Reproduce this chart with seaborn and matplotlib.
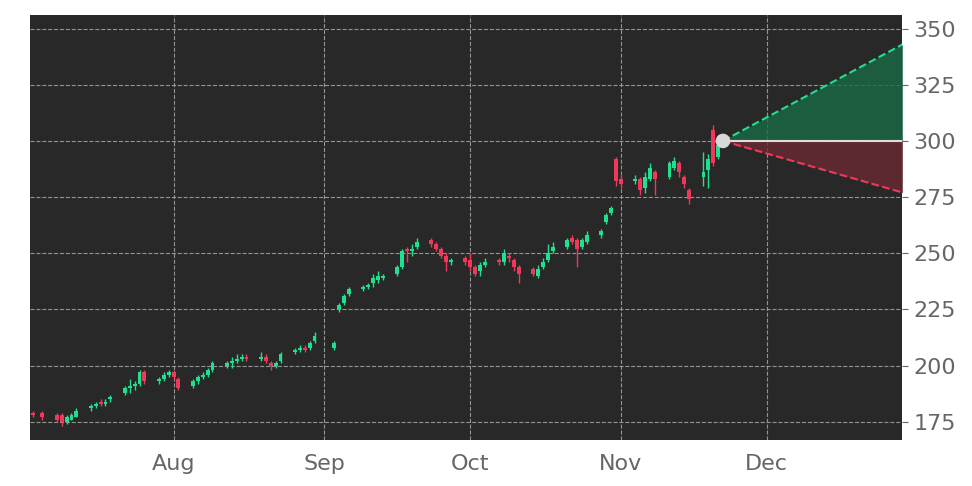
import pandas as pd
import numpy as np
import matplotlib.pyplot as plt
import matplotlib.dates as mdates
import seaborn as sns

# daily candles, Jul 1 - Nov 21 (trading days)
opens = [180, 180, 179, 179, 178, 178, 175, 176, 177, 181, 182, 184, 183, 185, 188, 190, 191, 192, 197, 193, 194, 196,
         197, 194, 191, 193, 195, 196, 198, 200, 201, 202, 203, 204, 203, 204, 201, 200, 202, 206, 207, 208, 208, 211,
         208, 225, 228, 232, 234, 235, 237, 238, 239, 241, 244, 252, 251, 253, 256, 254, 252, 249, 246, 248,
         247, 244, 242, 245, 247, 246, 249, 247, 244, 243, 240, 244, 247, 251, 253, 257, 256, 253, 255, 258, 264, 268, 292,
         283, 282, 283, 279, 283, 286, 284, 288, 290, 284, 278, 284, 287, 305, 293]
closes = [180, 179, 178, 177, 176, 175, 177, 178, 180, 182, 183, 183, 184, 186, 190, 191, 192, 197, 193, 194, 196, 197,
          195, 190, 193, 195, 196, 198, 201, 201, 202, 203, 204, 203, 204, 202, 200, 201, 205, 207, 208, 207, 210, 213,
          210, 227, 231, 234, 235, 236, 239, 240, 240, 244, 251, 251, 252, 255, 254, 252, 249, 246, 247, 246,
          244, 241, 245, 246, 246, 250, 248, 244, 241, 241, 243, 246, 250, 253, 256, 255, 252, 256, 258, 260, 267, 270, 282,
          281, 283, 278, 284, 288, 283, 290, 291, 286, 281, 274, 286, 292, 290, 298]
highs = [181, 181, 180, 180, 179, 179, 178, 179, 181, 183, 184, 185, 185, 187, 191, 194, 193, 198, 198, 195, 197, 198,
         198, 195, 194, 196, 197, 199, 202, 202, 204, 205, 205, 205, 206, 205, 202, 202, 206, 208, 209, 209, 211, 215,
         211, 228, 232, 235, 236, 237, 241, 242, 241, 245, 252, 253, 254, 257, 257, 255, 253, 250, 248, 249,
         250, 245, 246, 248, 248, 252, 250, 248, 245, 244, 245, 248, 254, 255, 257, 258, 257, 257, 260, 261, 268, 271, 293,
         285, 285, 284, 286, 290, 287, 291, 293, 291, 285, 279, 295, 294, 307, 302]
lows = [179, 178, 177, 176, 175, 173, 174, 176, 177, 180, 181, 182, 182, 184, 187, 188, 189, 191, 192, 192, 193, 195,
        194, 189, 190, 192, 194, 195, 197, 199, 199, 201, 202, 202, 202, 201, 198, 199, 201, 205, 206, 206, 207, 210,
        207, 224, 227, 231, 233, 234, 235, 237, 238, 240, 243, 246, 249, 252, 253, 251, 248, 242, 245, 245,
        242, 240, 240, 244, 245, 245, 246, 242, 237, 240, 239, 243, 246, 250, 252, 254, 244, 252, 254, 257, 263, 267, 280,
        279, 281, 276, 277, 282, 276, 283, 287, 284, 279, 272, 280, 279, 289, 292]

# forecast cone
fc_dates = ["2024-11-22", "2024-12-29"]
fc_base = [300, 300]
fc_upper = [300, 343]
fc_lower = [300, 277]

dates = pd.bdate_range("2024-07-01", "2024-11-21")
dates = dates.drop(pd.to_datetime(["2024-07-04", "2024-09-02"]))
n = min(len(dates), len(opens))
df = pd.DataFrame({"date": dates[:n], "open": opens[:n], "close": closes[:n],
                   "high": highs[:n], "low": lows[:n]})

GREEN = "#1ee08f"
RED = "#f2385a"
BG = "#282828"

sns.set_style("dark")
fig, ax = plt.subplots(figsize=(9.72, 4.86), dpi=100)
fig.subplots_adjust(left=0.031, right=0.928, top=0.969, bottom=0.095)
ax.set_facecolor(BG)
fig.patch.set_facecolor("white")

x = mdates.date2num(df["date"])
up = df["close"] >= df["open"]
cols = np.where(up, GREEN, RED)
ax.vlines(x, df["low"], df["high"], colors=cols, linewidth=1, zorder=3)
bottom = np.minimum(df["open"], df["close"])
height = np.maximum(np.abs(df["close"] - df["open"]), 0.5)
ax.bar(x, height, bottom=bottom, width=0.8, color=cols, linewidth=0, edgecolor="none", zorder=4)

fc = pd.DataFrame({"date": pd.to_datetime(fc_dates), "base": fc_base,
                   "upper": fc_upper, "lower": fc_lower})
fx = mdates.date2num(fc["date"])
ax.fill_between(fx, fc["base"], fc["upper"], color="#1a6b45", alpha=0.8, zorder=2, linewidth=0)
ax.fill_between(fx, fc["base"], fc["lower"], color="#6b2a33", alpha=0.8, zorder=2, linewidth=0)
sns.lineplot(x=fx, y=fc["upper"], ax=ax, color=GREEN, linestyle="--", linewidth=1.5, zorder=5)
sns.lineplot(x=fx, y=fc["lower"], ax=ax, color=RED, linestyle="--", linewidth=1.5, zorder=5)
ax.plot([fx[0], fx[1] + 5], fc["base"], color="#dddddd", linewidth=1.5, zorder=5)
ax.scatter([fx[0]], [fc_base[0]], s=110, color="#d8d8d8", edgecolor="none", zorder=6)

ax.set_xlim(mdates.date2num(pd.Timestamp("2024-07-02 12:00")), mdates.date2num(pd.Timestamp("2024-12-28 20:00")))
ax.set_ylim(167, 356)
ax.yaxis.tick_right()
ax.set_yticks([175, 200, 225, 250, 275, 300, 325, 350])
ax.xaxis.set_major_locator(mdates.MonthLocator(bymonth=[8, 9, 10, 11, 12]))
ax.xaxis.set_major_formatter(mdates.DateFormatter("%b"))
ax.grid(True, color="#a0a0a0", linestyle="--", linewidth=0.8, alpha=0.9)
ax.tick_params(axis="both", labelsize=16, colors="#666666", length=4)
ax.tick_params(axis="x", pad=6)
ax.tick_params(axis="y", pad=4)
for s in ax.spines.values():
    s.set_visible(False)
ax.set_xlabel("")
ax.set_ylabel("")

plt.savefig("out.png", dpi=100)
